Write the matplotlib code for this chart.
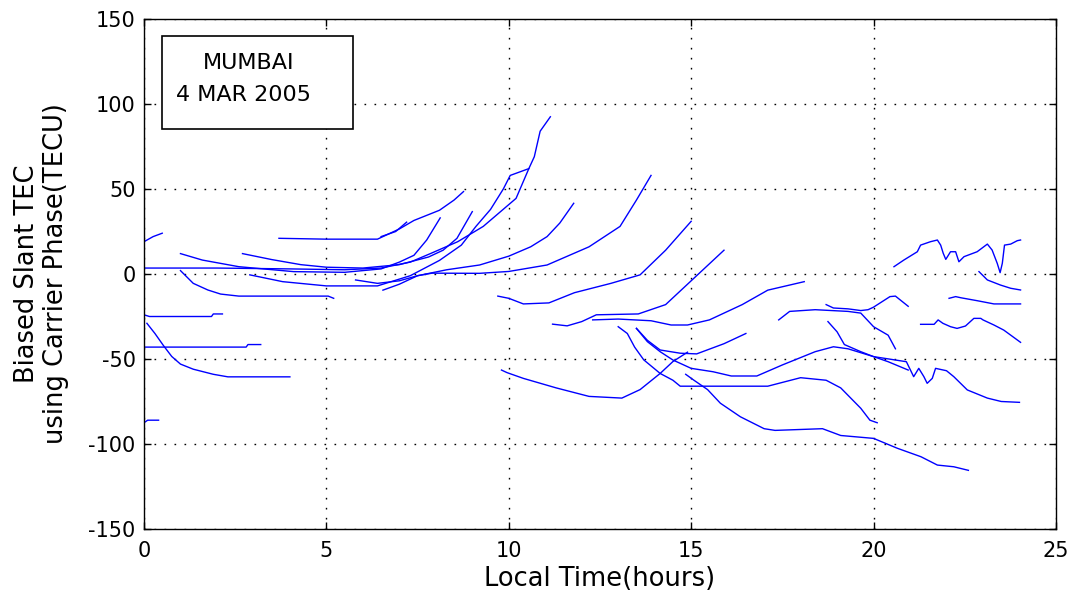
import matplotlib
matplotlib.use("Agg")
import matplotlib.pyplot as plt
from matplotlib.patches import Rectangle

plt.rcParams['font.family'] = ['DejaVu Sans']
plt.rcParams['axes.unicode_minus'] = False

# ----------------------------
# satellite arcs: (local time [h], slant TEC [TECU])
# ----------------------------

arc_a = [(0.0, 19), (0.25, 22), (0.5, 24)]
arc_g = [(0.0, -24), (0.15, -25), (1.85, -25), (1.9, -23.5), (2.15, -23.5)]
arc_h = [(0.0, -43), (2.8, -43), (2.85, -41.5), (3.2, -41.5)]
arc_i = [(0.08, -29), (0.3, -35), (0.53, -42), (0.76, -48.5), (1.0, -53),
         (1.35, -56), (1.9, -59), (2.3, -60.5), (4.0, -60.5)]
arc_j = [(0.0, -87.5), (0.1, -86), (0.4, -86)]
arc_d = [(1.0, 2), (1.35, -5.5), (1.75, -9.4), (2.1, -11.8), (2.6, -13),
         (5.05, -13), (5.2, -14.3)]

arc_k = [(3.7, 21), (5.0, 20.5), (6.4, 20.5), (6.6, 22.5), (7.0, 26.5),
         (7.4, 31.5), (8.1, 37.5), (8.5, 43.5), (8.76, 48.5)]
arc_k2 = [(6.5, 22), (6.9, 25), (7.2, 30.5)]
arc_l1 = [(0.0, 3.5), (2.0, 3.5), (4.0, 3), (5.5, 2.5), (6.5, 3.5), (7.3, 7),
          (7.85, 12), (8.6, 19), (9.3, 28), (10.2, 44.5), (10.55, 62),
          (10.7, 69), (10.86, 84), (11.14, 92.5)]
arc_b = [(1.0, 12), (1.6, 8.2), (2.6, 4.3), (4.1, 1.4), (5.5, 1), (6.5, 3),
         (7.0, 7), (7.4, 11), (7.75, 20), (8.12, 33)]
arc_c = [(2.7, 12), (3.5, 8.5), (4.3, 5.5), (5.0, 4), (6.0, 3.5), (7.0, 5.5),
         (7.8, 10), (8.2, 14), (8.58, 21), (9.0, 36.7)]
arc_l2 = [(2.9, -0.5), (3.8, -4.5), (5.0, -7), (6.4, -7), (7.3, -1), (8.1, 8),
          (8.7, 17), (9.1, 28), (9.5, 38), (9.85, 50), (10.04, 58), (10.55, 62)]
arc_f = [(5.8, -3.5), (6.4, -5.5), (7.0, -4), (7.5, -1), (8.3, 2.5), (9.2, 5.3),
         (10.0, 10.5), (10.6, 16), (11.05, 22), (11.4, 30), (11.78, 41.6)]
arc_gg = [(6.55, -9.5), (7.0, -6), (7.5, -1), (7.9, 0.5), (9.2, 0.4), (10.0, 1.5),
          (11.05, 5.3), (12.2, 16), (13.05, 28), (13.5, 43.5), (13.9, 58)]

arc_hh = [(9.7, -13), (10.0, -14.3), (10.4, -17.6), (11.1, -17), (11.8, -11),
          (12.8, -5.5), (13.6, -0.5), (14.3, 14), (15.0, 31)]
arc_ii = [(11.2, -29.5), (11.6, -30.5), (12.0, -28), (12.4, -24), (13.55, -23.5),
          (14.3, -18), (15.2, 0), (15.9, 14)]
arc_jj = [(12.3, -27), (13.0, -26.5), (13.9, -27.5), (14.45, -30), (14.9, -30),
          (15.5, -27), (16.4, -18), (17.1, -9.5), (18.1, -4.5)]
arc_kk = [(13.0, -31), (13.25, -35), (13.45, -43), (13.7, -50.5), (14.15, -58.5),
          (14.5, -62.5), (14.7, -66), (17.1, -66), (18.0, -61), (18.7, -62.5),
          (19.1, -67), (19.65, -79), (19.9, -86), (20.1, -87.5)]
arc_ll = [(13.5, -32), (13.8, -39.8), (14.15, -45.7), (14.5, -50.6), (15.0, -55.5),
          (15.6, -57.5), (16.1, -60), (16.8, -60), (17.5, -53.5), (18.4, -45.7),
          (18.9, -42.8), (19.3, -44), (20.0, -48.6), (20.9, -51.6), (21.1, -60.4),
          (21.24, -55.5), (21.38, -60.4), (21.47, -64.3), (21.61, -61.4),
          (21.7, -55.5), (22.0, -56.9), (22.2, -60.4), (22.57, -68.2),
          (23.12, -73), (23.5, -75), (24.0, -75.5)]
arc_nn = [(13.5, -32), (13.8, -39), (14.15, -44.7), (14.7, -46.6), (15.15, -47),
          (15.9, -41), (16.5, -35)]
arc_mm = [(9.8, -56.5), (9.95, -58), (10.4, -61.4), (11.3, -67), (12.2, -72),
          (13.1, -73), (13.6, -68), (14.15, -58.5), (14.5, -51.5), (14.9, -46)]
arc_oo = [(14.85, -59), (15.07, -62.4), (15.45, -68), (15.8, -76), (16.35, -84),
          (17.0, -91), (17.3, -92), (18.6, -91), (19.1, -95), (20.0, -96.7),
          (20.65, -102.5), (21.3, -107.5), (21.75, -112.4), (22.2, -113.4),
          (22.6, -115.5)]

arc_qq = [(17.4, -27), (17.7, -22), (18.4, -21), (19.3, -22), (19.65, -23),
          (20.0, -31), (20.4, -36), (20.6, -44)]
arc_rr = [(18.7, -18), (18.9, -20), (19.3, -20.5), (19.65, -21.5), (19.85, -21),
          (20.0, -19.5), (20.45, -13.3), (20.6, -13), (20.95, -19)]
arc_ss = [(18.75, -28), (19.0, -34), (19.2, -41.5), (19.65, -45.7), (20.0, -48.6),
          (20.4, -51.6), (20.95, -56.5)]
arc_tt = [(20.56, 4.3), (20.83, 8.2), (21.2, 13.1), (21.29, 17), (21.56, 19),
          (21.75, 20), (21.84, 17), (21.91, 12.2), (21.98, 8.6), (22.11, 13.1),
          (22.25, 13.1), (22.34, 7.2), (22.48, 10.2), (22.84, 13.1), (23.12, 17.6),
          (23.25, 14.1), (23.39, 6.3), (23.47, 0.8), (23.53, 6.3), (23.59, 17),
          (23.76, 17.6), (23.94, 19.6), (24.03, 20)]
arc_uu = [(22.89, 1.4), (23.12, -3.5), (23.48, -6.5), (23.76, -8.4), (24.03, -9.4)]
arc_vv = [(22.07, -14.3), (22.25, -13.3), (22.4, -14), (22.84, -15.7), (23.3, -17.6),
          (24.03, -17.6)]
arc_ww = [(21.29, -29.6), (21.66, -29.6), (21.77, -27), (21.9, -29), (22.11, -31),
          (22.29, -32), (22.52, -30.6), (22.75, -26.1), (22.94, -26.1), (23.0, -27),
          (23.3, -30), (23.57, -33), (24.03, -40.2)]

ARCS = [arc_a, arc_g, arc_h, arc_i, arc_j, arc_d, arc_k, arc_k2, arc_l1, arc_b,
        arc_c, arc_l2, arc_f, arc_gg, arc_hh, arc_ii, arc_jj, arc_kk, arc_ll,
        arc_nn, arc_mm, arc_oo, arc_qq, arc_rr, arc_ss, arc_tt, arc_uu, arc_vv,
        arc_ww]

X_TICKS = [0, 5, 10, 15, 20, 25]
Y_TICKS = [-150, -100, -50, 0, 50, 100, 150]


def main():
    fig = plt.figure(figsize=(10.73, 6.04), dpi=100)
    ax = fig.add_axes([0.1342, 0.1242, 0.8499, 0.8443])

    for arc in ARCS:
        hrs = [p[0] for p in arc]
        tec = [p[1] for p in arc]
        ax.plot(hrs, tec, color=(0, 0, 1), lw=1.0)

    ax.set_xlim(0, 25)
    ax.set_ylim(-150, 150)
    ax.set_xticks(X_TICKS)
    ax.set_yticks(Y_TICKS)
    ax.grid(True, color="black", linestyle=(0, (1.2, 6)), linewidth=1.0)
    ax.tick_params(direction="in", length=5, width=1, top=True, right=True,
                   labelsize=15, colors="black")
    ax.tick_params(axis="x", pad=9)
    ax.tick_params(axis="y", pad=6)
    for sp in ax.spines.values():
        sp.set_linewidth(1.0)

    ax.set_xlabel("Local Time(hours)", fontsize=18.5, labelpad=3)
    ax.set_ylabel("Biased Slant TEC\nusing Carrier Phase(TECU)", fontsize=18.5,
                  labelpad=14, linespacing=1.15)

    # text box in upper left
    ax.add_patch(Rectangle((0.0201, 0.7837), 0.2087, 0.1836, transform=ax.transAxes,
                           fill=True, facecolor="white", edgecolor="black",
                           lw=1.2, zorder=5))
    ax.text(0.115, 0.914, "MUMBAI", transform=ax.transAxes, ha="center",
            va="center", fontsize=16, zorder=6)
    ax.text(0.1086, 0.851, "4 MAR 2005", transform=ax.transAxes, ha="center",
            va="center", fontsize=16, zorder=6)

    fig.savefig("out.png", dpi=100)


if __name__ == "__main__":
    main()
